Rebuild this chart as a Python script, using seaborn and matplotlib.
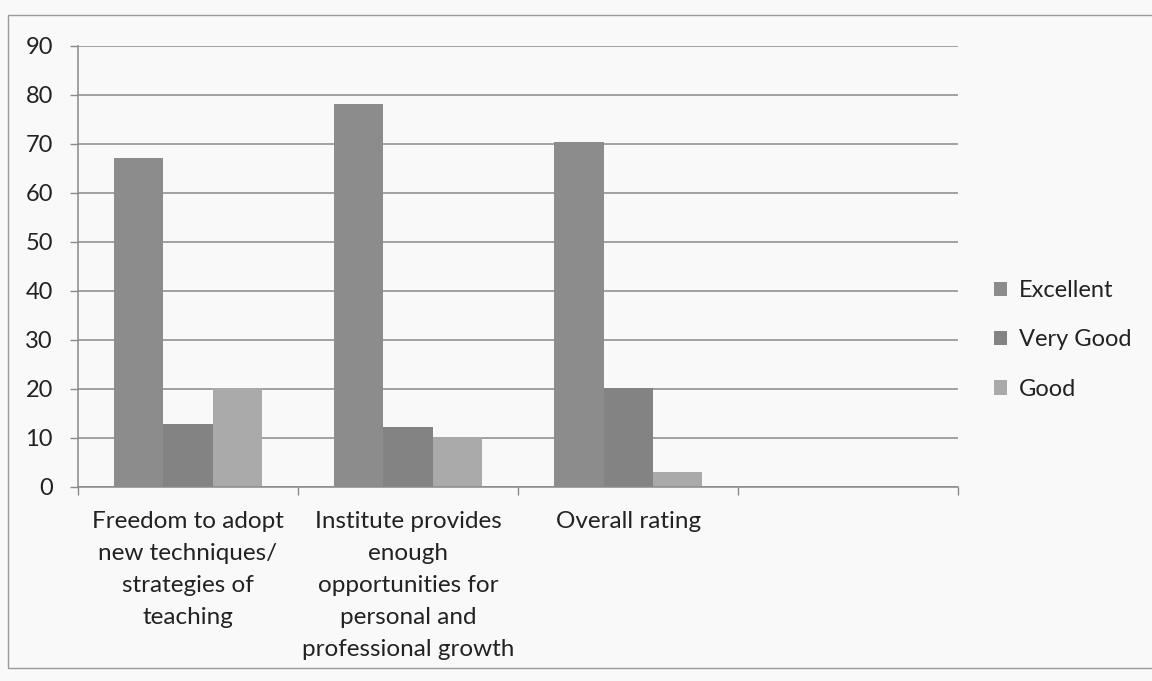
import matplotlib
matplotlib.use("Agg")
import matplotlib.pyplot as plt
import seaborn as sns
import pandas as pd
from matplotlib.patches import Rectangle

# survey items (4th slot is left empty in the original chart)
categories = [
    "Freedom to adopt\nnew techniques/\nstrategies of\nteaching",
    "Institute provides\nenough\nopportunities for\npersonal and\nprofessional growth",
    "Overall rating",
]
slots = categories + [""]
ratings = ["Excellent", "Very Good", "Good"]
excellent = [67.1, 78.2, 70.5]
very_good = [12.8, 12.2, 20.3]
good = [20.3, 10.3, 3.0]
y_ticks = [0, 10, 20, 30, 40, 50, 60, 70, 80, 90]

colors = {"Excellent": "#8c8c8c", "Very Good": "#838383", "Good": "#aaaaaa"}

df = pd.DataFrame({
    "item": categories * 3,
    "rating": [r for r in ratings for _ in categories],
    "value": excellent + very_good + good,
})

sns.set_style("white")
plt.rcParams["font.family"] = ["Lato", "DejaVu Sans"]

fig = plt.figure(figsize=(11.52, 6.81), dpi=100, facecolor="#f9f9f9")
ax = fig.add_axes([0.0677, 0.2849, 0.764, 0.6476])
ax.set_facecolor("#f9f9f9")

sns.barplot(data=df, x="item", y="value", hue="rating", order=slots,
            hue_order=ratings, palette=colors, width=0.67, gap=0,
            linewidth=0, saturation=1, ax=ax)

ax.set_xlim(-0.5, 3.5)
ax.set_ylim(0, 90)
ax.set_yticks(y_ticks)
ax.yaxis.grid(True, color="#8a8a8a", linewidth=1.1)
ax.set_axisbelow(True)
ax.set_xlabel("")
ax.set_ylabel("")

for side in ["top", "right"]:
    ax.spines[side].set_visible(False)
for side in ["left", "bottom"]:
    ax.spines[side].set_color("#8a8a8a")
    ax.spines[side].set_linewidth(1.1)

ax.set_xticks(range(len(slots)))
ax.set_xticklabels(slots, fontsize=17.5, color="#222222", linespacing=1.65)
ax.set_xticks([i - 0.5 for i in range(len(slots) + 1)], minor=True)
ax.tick_params(axis="x", which="major", length=0, pad=17)
ax.tick_params(axis="x", which="minor", length=6, width=1, color="#8a8a8a",
               direction="out", bottom=True)
ax.tick_params(axis="y", length=6, width=1, color="#8a8a8a", pad=12,
               labelsize=17, labelcolor="#222222", left=True)

handles, labels = ax.get_legend_handles_labels()
ax.legend(handles, labels, loc="center left",
          bbox_to_anchor=(994 / 1152, 1 - 340 / 681),
          bbox_transform=fig.transFigure, frameon=False, fontsize=17,
          handlelength=0.55, handleheight=0.55, handletextpad=0.5,
          labelspacing=1.2, borderpad=0, borderaxespad=0,
          labelcolor="#222222")

# outer chart-area border
fig.add_artist(Rectangle((8 / 1152, 1 - 668 / 681), 1.2, 653 / 681,
                         transform=fig.transFigure, fill=False,
                         edgecolor="#9a9a9a", linewidth=1, clip_on=False))

fig.savefig("out.png", dpi=100, facecolor=fig.get_facecolor())
